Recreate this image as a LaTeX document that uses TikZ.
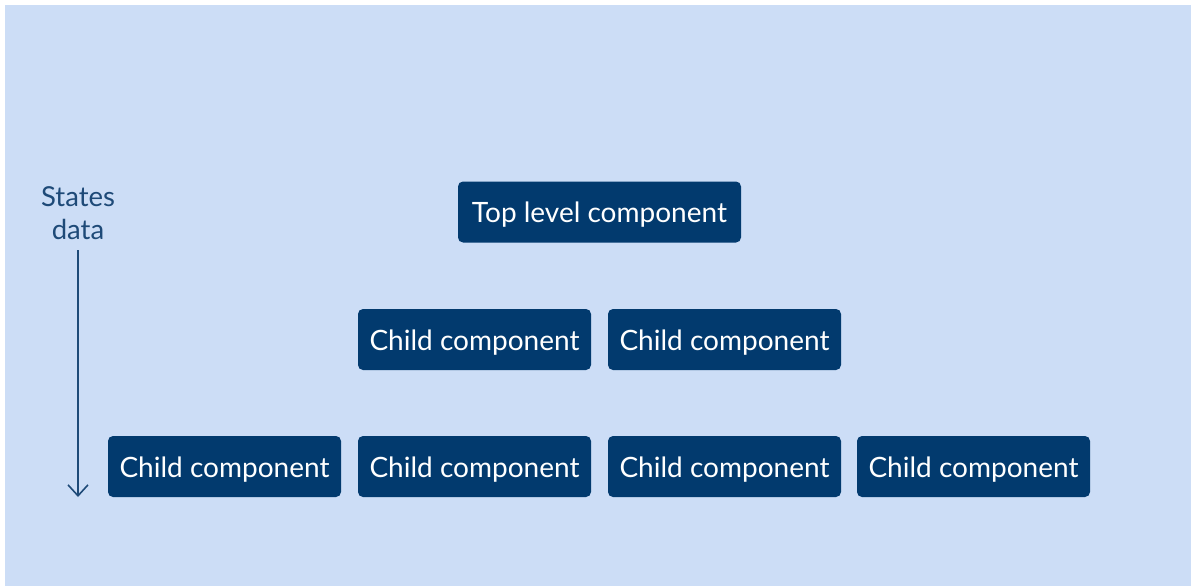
\documentclass[tikz,border=0pt]{standalone}
\usepackage{fontspec}
\setmainfont{Lato}
\usetikzlibrary{arrows.meta}
\definecolor{bgblue}{HTML}{CCDDF6}
\definecolor{navy}{HTML}{023A6E}
\definecolor{arrowc}{HTML}{1E4A78}
\tikzset{
  comp/.style={fill=navy, rounded corners=5pt, text=white, minimum height=61pt, inner sep=0pt, font=\fontsize{28}{32}\selectfont, text height=23pt, text depth=2pt, anchor=center},
  child/.style={comp, minimum width=233pt},
  lbl/.style={text=arrowc, font=\fontsize{27.5}{33}\selectfont, align=center}
}
\begin{document}
\begin{tikzpicture}[x=1pt,y=-1pt]
\useasboundingbox (0,0) rectangle (1191,586);
\fill[white] (0,0) rectangle (1191,586);
\fill[bgblue] (5,5) rectangle (1191,586);
\node[comp, minimum width=283pt] (top) at (599.5,212) {Top level component};
\node[child] (c21) at (474.5,339.5) {Child component};
\node[child] (c22) at (724.5,339.5) {Child component};
\node[child] (c31) at (224.5,466.5) {Child component};
\node[child] (c32) at (474.5,466.5) {Child component};
\node[child] (c33) at (724.5,466.5) {Child component};
\node[child] (c34) at (973.5,466.5) {Child component};
\node[lbl] (lab) at (78,213) {States\\data};
\coordinate (a1) at (78,250);
\coordinate (a2) at (78,497);
\draw[arrowc, line width=1.6pt, -{Straight Barb[length=11pt,width=20pt,line width=1.6pt]}] (a1) -- (a2);
\end{tikzpicture}
\end{document}
